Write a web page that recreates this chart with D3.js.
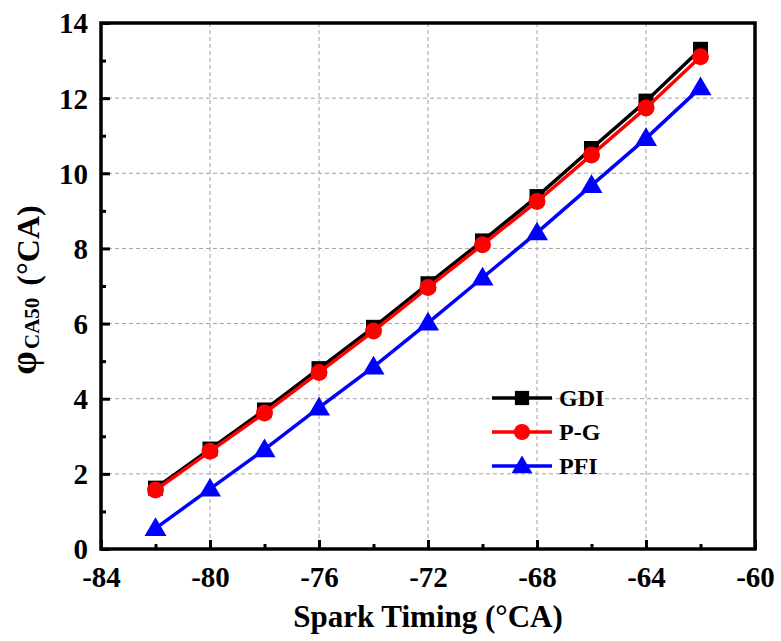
<!DOCTYPE html>
<html>
<head>
<meta charset="utf-8">
<script src="https://cdn.jsdelivr.net/npm/d3@7"></script>
<style>
  body { margin: 0; background: #fff; }
  text { font-family: "Liberation Serif", "Times New Roman", serif; font-weight: bold; }
</style>
</head>
<body>
<svg id="chart" width="781" height="641"></svg>
<script>
const sparkTiming = [-82, -80, -78, -76, -74, -72, -70, -68, -66, -64, -62];
const gdi = [1.62, 2.66, 3.7, 4.8, 5.9, 7.06, 8.2, 9.38, 10.66, 11.92, 13.3];
const pg = [1.57, 2.6, 3.62, 4.7, 5.8, 6.96, 8.1, 9.25, 10.49, 11.74, 13.1];
const pfi = [0.55, 1.6, 2.65, 3.76, 4.85, 6.02, 7.22, 8.42, 9.68, 10.93, 12.28];
const xTicks = [-84, -80, -76, -72, -68, -64, -60];
const yTicks = [0, 2, 4, 6, 8, 10, 12, 14];
const seriesNames = ['GDI', 'P-G', 'PFI'];

const series = [
  {name: seriesNames[0], values: gdi, color: '#000000', marker: 'square'},
  {name: seriesNames[1], values: pg, color: '#ff0000', marker: 'circle'},
  {name: seriesNames[2], values: pfi, color: '#0000ff', marker: 'triangle'},
];

const margin = {top: 23, right: 26, bottom: 92, left: 101};
const svgWidth = 781, svgHeight = 641;
const width = svgWidth - margin.left - margin.right;
const height = svgHeight - margin.top - margin.bottom;

const svg = d3.select('#chart');
const chart = svg.append('g')
    .attr('transform', `translate(${margin.left},${margin.top})`);

const x = d3.scaleLinear().domain([-84, -60]).range([0, width]);
const y = d3.scaleLinear().domain([0, 14]).range([height, 0]);

// dashed grid, interior only
chart.append('g')
    .selectAll('line')
    .data(xTicks.slice(1, -1))
    .enter().append('line')
    .attr('x1', d => x(d)).attr('x2', d => x(d))
    .attr('y1', 0).attr('y2', height)
    .attr('stroke', '#a0a0a0')
    .attr('stroke-width', 1)
    .attr('stroke-dasharray', '4,3');

chart.append('g')
    .selectAll('line')
    .data(yTicks.slice(1, -1))
    .enter().append('line')
    .attr('y1', d => y(d)).attr('y2', d => y(d))
    .attr('x1', 0).attr('x2', width)
    .attr('stroke', '#a0a0a0')
    .attr('stroke-width', 1)
    .attr('stroke-dasharray', '4,3');

// axes with inward ticks
const xMinor = d3.range(-82, -60, 4);
const yMinor = d3.range(1, 14, 2);
const plainFormat = d => String(d); // hyphen-minus like the original

const xAxis = chart.append('g')
    .attr('transform', `translate(0,${height})`)
    .call(d3.axisBottom(x).tickValues(xTicks).tickSize(-9).tickPadding(17).tickFormat(plainFormat));
chart.append('g')
    .attr('transform', `translate(0,${height})`)
    .call(d3.axisBottom(x).tickValues(xMinor).tickSize(-5).tickFormat(''));

const yAxis = chart.append('g')
    .call(d3.axisLeft(y).tickValues(yTicks).tickSize(-9).tickPadding(13).tickFormat(plainFormat));
chart.append('g')
    .call(d3.axisLeft(y).tickValues(yMinor).tickSize(-5).tickFormat(''));

chart.selectAll('.domain').remove();
chart.selectAll('.tick line').attr('stroke', '#000').attr('stroke-width', 3);
chart.selectAll('.tick text')
    .attr('fill', '#000')
    .attr('font-family', '"Liberation Serif", serif')
    .attr('font-size', 29)
    .style('font-size', '29px')
    .style('font-family', '"Liberation Serif", serif')
    .style('font-weight', 'bold');
xAxis.selectAll('.tick text').attr('dy', '0.71em');
yAxis.selectAll('.tick text').attr('dy', '0.34em');

// frame
chart.append('rect')
    .attr('x', 0).attr('y', 0)
    .attr('width', width).attr('height', height)
    .attr('fill', 'none')
    .attr('stroke', '#000')
    .attr('stroke-width', 3.5);

const line = d3.line()
    .x((d, i) => x(sparkTiming[i]))
    .y(d => y(d));

function drawMarker(g, type, color, cx, cy, scale) {
  const s = scale || 1;
  if (type === 'square') {
    g.append('rect')
        .attr('x', cx - 7.5 * s).attr('y', cy - 7.5 * s)
        .attr('width', 15 * s).attr('height', 15 * s)
        .attr('fill', color);
  } else if (type === 'circle') {
    g.append('circle')
        .attr('cx', cx).attr('cy', cy).attr('r', 8.5 * s)
        .attr('fill', color);
  } else {
    const r = 11 * s;
    g.append('path')
        .attr('d', `M${cx},${cy - r}L${cx + r},${cy + r * 0.7}L${cx - r},${cy + r * 0.7}Z`)
        .attr('fill', color);
  }
}

series.forEach(s => {
  const g = chart.append('g');
  g.append('path')
      .datum(s.values)
      .attr('d', line)
      .attr('fill', 'none')
      .attr('stroke', s.color)
      .attr('stroke-width', 3.5);
  s.values.forEach((v, i) => drawMarker(g, s.marker, s.color, x(sparkTiming[i]), y(v)));
});

// legend
const legend = svg.append('g').attr('transform', 'translate(492,398)');
series.forEach((s, i) => {
  const row = legend.append('g').attr('transform', `translate(0,${i * 34})`);
  row.append('line')
      .attr('x1', 0).attr('x2', 60)
      .attr('y1', 0).attr('y2', 0)
      .attr('stroke', s.color)
      .attr('stroke-width', 3.5);
  drawMarker(row, s.marker, s.color, 30, 0, 0.95);
  row.append('text')
      .attr('x', 67).attr('y', 0).attr('dy', '0.35em')
      .style('font-size', '24px')
      .text(s.name);
});

// axis titles
svg.append('text')
    .attr('x', margin.left + width / 2)
    .attr('y', 627)
    .attr('text-anchor', 'middle')
    .style('font-size', '31px')
    .text('Spark Timing (°CA)');

const yTitle = svg.append('text')
    .attr('transform', 'translate(39,290) rotate(-90)')
    .attr('text-anchor', 'middle');
yTitle.append('tspan').style('font-size', '38px').attr('dy', -3).text('φ');
yTitle.append('tspan').style('font-size', '21px').attr('dx', 2).attr('dy', 3).text('CA50');
yTitle.append('tspan').style('font-size', '32px').attr('dx', 4).text(' (°CA)');
</script>
</body>
</html>
